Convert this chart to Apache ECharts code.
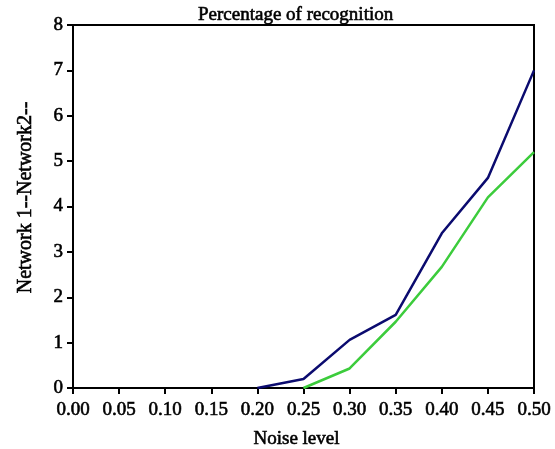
<!DOCTYPE html>
<html>
<head>
<meta charset="utf-8">
<script src="https://cdn.jsdelivr.net/npm/echarts@6/dist/echarts.min.js"></script>
<style>
  html, body { margin: 0; padding: 0; background: #fff; }
  #chart { width: 555px; height: 449px; }
</style>
</head>
<body>
<div id="chart"></div>
<script>
var chartDom = document.getElementById('chart');
var myChart = echarts.init(chartDom, null, { renderer: 'canvas' });

// noise levels and recognition values
var noise1 = [0.20, 0.25, 0.30, 0.35, 0.40, 0.45, 0.50];
var network1 = [0, 0.2, 1.06, 1.61, 3.41, 4.63, 7.0];
var noise2 = [0.25, 0.30, 0.35, 0.40, 0.45, 0.50];
var network2 = [0, 0.43, 1.46, 2.67, 4.2, 5.2];

var serif = 'Liberation Serif';
// a thin outline makes the serif text as heavy as in the original
var heavy = { textBorderColor: '#000', textBorderWidth: 0.6 };

function pairs(xs, ys) {
  return xs.map(function (x, i) { return [x, ys[i]]; });
}

var option = {
  animation: false,
  textStyle: { fontFamily: serif },
  title: {
    text: 'Percentage of recognition',
    left: 193,
    top: 1,
    textStyle: Object.assign({ fontFamily: serif, fontSize: 19, fontWeight: 'normal', color: '#000' }, heavy)
  },
  grid: {
    left: 73,
    right: 21,
    top: 25,
    bottom: 61,
    outerBoundsMode: 'none',
    containLabel: false,
    show: true,
    borderColor: '#000',
    borderWidth: 2,
    backgroundColor: '#fff'
  },
  xAxis: {
    type: 'value',
    min: 0,
    max: 0.5,
    interval: 0.05,
    name: 'Noise level',
    nameLocation: 'middle',
    nameGap: 42,
    nameTextStyle: Object.assign({ fontFamily: serif, fontSize: 19, color: '#000', padding: [0, 14, 0, 0] }, heavy),
    axisLine: { lineStyle: { color: '#000', width: 2 } },
    axisTick: { length: 6, lineStyle: { color: '#000', width: 2 } },
    splitLine: { show: false },
    axisLabel: Object.assign({
      fontFamily: serif,
      fontSize: 19,
      color: '#000',
      margin: 13,
      formatter: function (v) { return v.toFixed(2); }
    }, heavy)
  },
  yAxis: {
    type: 'value',
    min: 0,
    max: 8,
    interval: 1,
    name: 'Network 1--Network2--',
    nameLocation: 'middle',
    nameGap: 37,
    nameTextStyle: Object.assign({ fontFamily: serif, fontSize: 20, color: '#000', padding: [0, 0, 0, 18] }, heavy),
    axisLine: { lineStyle: { color: '#000', width: 2 } },
    axisTick: { length: 6, lineStyle: { color: '#000', width: 2 } },
    splitLine: { show: false },
    axisLabel: Object.assign({ fontFamily: serif, fontSize: 19, color: '#000', margin: 10 }, heavy)
  },
  series: [
    {
      name: 'Network 1',
      type: 'line',
      data: pairs(noise1, network1),
      showSymbol: false,
      lineStyle: { color: '#0b0b6f', width: 2.5 },
      itemStyle: { color: '#0b0b6f' }
    },
    {
      name: 'Network 2',
      type: 'line',
      data: pairs(noise2, network2),
      showSymbol: false,
      lineStyle: { color: '#3ccc3c', width: 2.5 },
      itemStyle: { color: '#3ccc3c' }
    }
  ]
};

myChart.setOption(option);
window.addEventListener('resize', myChart.resize);
</script>
</body>
</html>
